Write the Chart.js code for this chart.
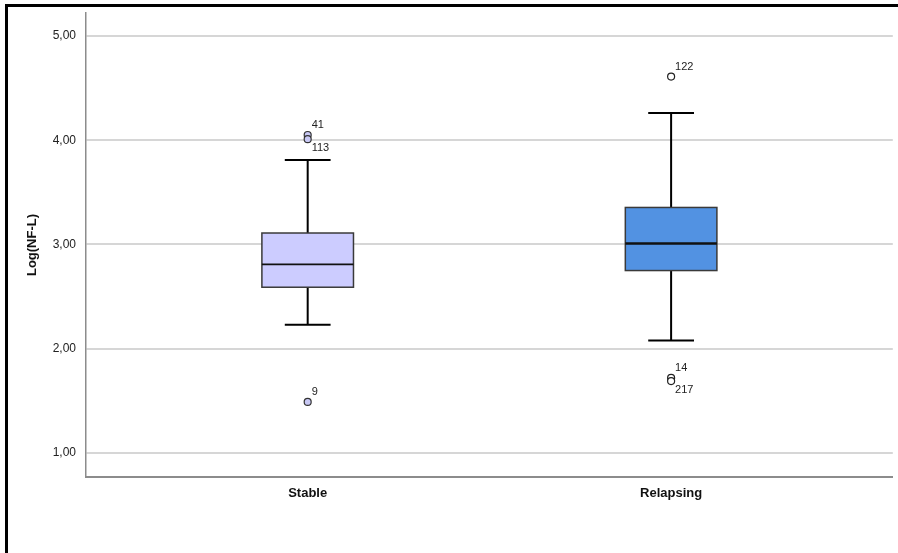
<!DOCTYPE html>
<html>
<head>
<meta charset="utf-8">
<script src="https://cdn.jsdelivr.net/npm/chart.js@4.4.1/dist/chart.umd.min.js"></script>
<style>
  html, body { margin: 0; padding: 0; background: #fff; }
  #wrap { position: relative; width: 898px; height: 553px; overflow: hidden; }
  #frame {
    position: absolute; left: 5px; top: 4px; width: 900px; height: 560px;
    border-left: 3px solid #000; border-top: 3px solid #000;
  }
  #chart { position: absolute; left: 0; top: 0; }
</style>
</head>
<body>
<div id="wrap">
  <div id="frame"></div>
  <canvas id="chart" width="898" height="553"></canvas>
</div>
<script>
// groups and their box summaries (Log NF-L)
const groups = ["Stable", "Relapsing"];
const groupPos = [1, 2];
const q1 = [2.59, 2.75];
const median = [2.81, 3.01];
const q3 = [3.11, 3.355];
const whiskerLow = [2.23, 2.08];
const whiskerHigh = [3.81, 4.26];

// outliers with case numbers
const stableOutliers = [4.05, 4.01, 1.49];
const stableOutlierIds = ["41", "113", "9"];
const relapsingOutliers = [4.61, 1.72, 1.69];
const relapsingOutlierIds = ["122", "14", "217"];

const yTicks = [1, 2, 3, 4, 5];

const boxFill = ["#ccccff", "#5292e2"];
const outlierFill = ["#c8c8f4", "#ffffff"];
const medianWidth = [1.8, 2.6];
const labelSide = [["above", "below", "above"], ["above", "above", "below"]];

const FONT = "Arial, 'Liberation Sans', sans-serif";

const boxPlugin = {
    id: "boxes",
    beforeDatasetsDraw(chart) {
        const { ctx, scales: { x, y } } = chart;
        ctx.save();
        groupPos.forEach((pos, i) => {
            const cx = x.getPixelForValue(pos);
            const left = x.getPixelForValue(pos - 0.126);
            const right = x.getPixelForValue(pos + 0.126);
            const capL = x.getPixelForValue(pos - 0.063);
            const capR = x.getPixelForValue(pos + 0.063);
            const yQ1 = y.getPixelForValue(q1[i]);
            const yQ3 = y.getPixelForValue(q3[i]);
            const yMed = y.getPixelForValue(median[i]);
            const yLo = y.getPixelForValue(whiskerLow[i]);
            const yHi = y.getPixelForValue(whiskerHigh[i]);

            // whiskers
            ctx.strokeStyle = "#000";
            ctx.lineWidth = 2;
            ctx.beginPath();
            ctx.moveTo(cx, yQ3); ctx.lineTo(cx, yHi);
            ctx.moveTo(capL, yHi); ctx.lineTo(capR, yHi);
            ctx.moveTo(cx, yQ1); ctx.lineTo(cx, yLo);
            ctx.moveTo(capL, yLo); ctx.lineTo(capR, yLo);
            ctx.stroke();

            // box
            ctx.fillStyle = boxFill[i];
            ctx.fillRect(left, yQ3, right - left, yQ1 - yQ3);
            ctx.strokeStyle = "#3a3a3a";
            ctx.lineWidth = 1.5;
            ctx.strokeRect(left, yQ3, right - left, yQ1 - yQ3);

            // median
            ctx.strokeStyle = "#111";
            ctx.lineWidth = medianWidth[i];
            ctx.beginPath();
            ctx.moveTo(left, yMed); ctx.lineTo(right, yMed);
            ctx.stroke();
        });
        ctx.restore();
    },
    afterDatasetsDraw(chart) {
        const { ctx } = chart;
        ctx.save();
        ctx.font = "11px " + FONT;
        ctx.fillStyle = "#222";
        ctx.textAlign = "left";
        ctx.textBaseline = "middle";
        chart.data.datasets.forEach((ds, di) => {
            const meta = chart.getDatasetMeta(di);
            meta.data.forEach((pt, k) => {
                const dy = labelSide[di][k] === "above" ? -10 : 9;
                ctx.fillText(ds.ids[k], pt.x + 4, pt.y + dy);
            });
        });
        ctx.restore();
    }
};

new Chart(document.getElementById("chart"), {
    type: "scatter",
    data: {
        datasets: [
            {
                label: groups[0],
                ids: stableOutlierIds,
                data: stableOutliers.map((v) => ({ x: groupPos[0], y: v })),
                backgroundColor: outlierFill[0],
                borderColor: "#333",
                borderWidth: 1.2,
                pointRadius: 3.5,
            },
            {
                label: groups[1],
                ids: relapsingOutlierIds,
                data: relapsingOutliers.map((v) => ({ x: groupPos[1], y: v })),
                backgroundColor: outlierFill[1],
                borderColor: "#222",
                borderWidth: 1.2,
                pointRadius: 3.5,
            },
        ],
    },
    options: {
        responsive: false,
        animation: false,
        layout: { padding: { top: 13, right: 4, left: 0, bottom: 0 } },
        plugins: {
            legend: { display: false },
            tooltip: { enabled: false },
        },
        scales: {
            x: {
                type: "linear",
                min: 0.39,
                max: 2.61,
                afterBuildTicks: (scale) => {
                    scale.ticks = groupPos.map((v) => ({ value: v }));
                },
                afterFit: (scale) => { scale.height = 76; },
                ticks: {
                    callback: (v) => groups[groupPos.indexOf(v)],
                    color: "#111",
                    font: { family: FONT, size: 13, weight: "bold" },
                    padding: 9,
                    maxRotation: 0,
                },
                grid: { display: false, drawTicks: false },
                border: { display: true, color: "#8c8c8c", width: 2 },
            },
            y: {
                min: 0.77,
                max: 5.22,
                afterBuildTicks: (scale) => {
                    scale.ticks = yTicks.map((v) => ({ value: v }));
                },
                afterFit: (scale) => {
                    scale.width = 86;
                    scale.paddingTop = 0;
                    scale.paddingBottom = 0;
                },
                ticks: {
                    callback: (v) => v.toFixed(2).replace(".", ","),
                    color: "#222",
                    font: { family: FONT, size: 12 },
                    padding: 10,
                },
                grid: { color: "#d6d6d6", lineWidth: 2, drawTicks: false },
                border: { display: true, color: "#8c8c8c", width: 1.5 },
                title: {
                    display: true,
                    text: "Log(NF-L)",
                    color: "#111",
                    font: { family: FONT, size: 13, weight: "bold" },
                    padding: { top: 25 },
                },
            },
        },
    },
    plugins: [boxPlugin],
});
</script>
</body>
</html>
